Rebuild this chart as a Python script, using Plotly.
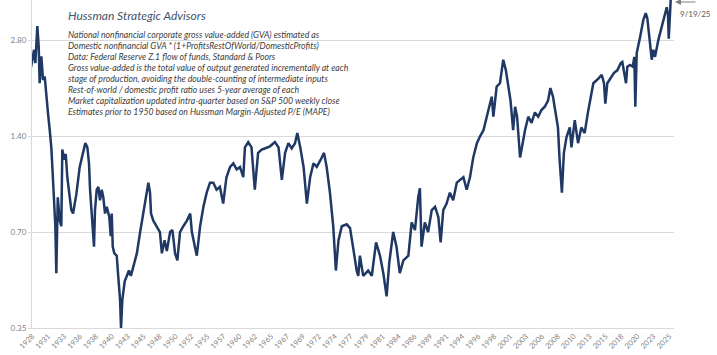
import numpy as np
import plotly.graph_objects as go

# ---- data (decimal year, MarketCap / GVA ratio) ----
years = [
    1928.64, 1929.10, 1929.30, 1929.60, 1929.81, 1929.95, 1930.21, 1930.46, 1930.72, 1930.96,
    1931.22, 1931.48, 1931.72, 1931.88, 1932.13, 1932.33, 1932.48, 1932.70, 1933.00, 1933.24,
    1933.39, 1933.65, 1933.91, 1934.15, 1934.52, 1934.76, 1935.02, 1935.52, 1936.03, 1936.53,
    1936.88, 1937.19, 1937.44, 1937.60, 1937.85, 1938.00, 1938.20, 1938.35, 1938.61, 1938.86,
    1939.11, 1939.37, 1939.61, 1939.87, 1940.13, 1940.52, 1940.74, 1940.89, 1941.04, 1941.28,
    1941.65, 1941.84, 1942.15, 1942.30, 1942.50, 1942.86, 1943.26, 1943.5, 1943.8, 1944.2,
    1944.7, 1945.2, 1945.7, 1946.2, 1946.45, 1946.7, 1946.85, 1947.2, 1947.7, 1948.2,
    1948.5, 1948.9, 1949.25, 1949.75, 1950.1, 1950.5, 1950.85, 1951.25, 1951.75, 1952.3,
    1952.8, 1953.05, 1953.5, 1953.8, 1954.3, 1954.8, 1955.3, 1955.8, 1956.3, 1956.8,
    1957.3, 1957.8, 1958.3, 1958.85, 1959.35, 1959.85, 1960.35, 1960.85, 1961.1, 1961.6,
    1962.1, 1962.6, 1963.1, 1963.65, 1964.1, 1964.9, 1965.65, 1966.2, 1966.7, 1967.2,
    1967.7, 1968.2, 1968.7, 1969.05, 1969.5, 1970.0, 1970.5, 1971.0, 1971.5, 1972.0,
    1972.6, 1973.1, 1973.5, 1974.0, 1974.5, 1974.9, 1975.3, 1975.8, 1976.55, 1977.05,
    1977.55, 1978.05, 1978.3, 1978.55, 1979.05, 1979.8, 1980.35, 1981.0, 1981.6, 1982.1,
    1982.6, 1983.0, 1983.6, 1984.1, 1984.6, 1985.15, 1985.9, 1986.4, 1986.9, 1987.4,
    1987.65, 1987.9, 1988.4, 1988.9, 1989.45, 1989.95, 1990.45, 1990.8, 1991.2, 1991.7,
    1992.2, 1992.7, 1993.25, 1993.85, 1994.25, 1994.75, 1995.25, 1995.75, 1996.3, 1996.8,
    1997.3, 1997.8, 1998.3, 1998.55, 1998.8, 1999.3, 1999.8, 2000.3, 2000.7, 2001.1,
    2001.4, 2001.8, 2002.1, 2002.4, 2002.6, 2002.85, 2003.25, 2003.6, 2004.1, 2004.6,
    2005.1, 2005.6, 2006.1, 2006.6, 2007.1, 2007.45, 2007.85, 2008.35, 2008.6, 2008.85,
    2009.2, 2009.5, 2009.9, 2010.4, 2010.65, 2011.15, 2011.65, 2012.15, 2012.65, 2013.15,
    2013.47, 2013.97, 2014.73, 2015.24, 2015.59, 2015.79, 2016.09, 2016.61, 2017.11, 2017.61,
    2018.13, 2018.37, 2018.63, 2018.93, 2019.13, 2019.54, 2019.95, 2020.19, 2020.34, 2020.55,
    2021.06, 2021.56, 2021.92, 2022.16, 2022.47, 2022.83, 2023.07, 2023.33, 2023.83, 2024.20,
    2024.70, 2025.11, 2025.30, 2025.41, 2025.61, 2025.72,
]
ratio = [
    2.30, 2.61, 2.37, 3.10, 2.67, 2.05, 2.49, 2.10, 2.15, 1.86,
    1.65, 1.46, 1.29, 1.12, 0.90, 0.73, 0.52, 0.90, 0.76, 0.73,
    1.27, 1.18, 1.23, 1.04, 0.90, 0.82, 0.80, 0.92, 1.12, 1.23,
    1.33, 1.29, 1.15, 0.95, 0.80, 0.75, 0.63, 0.82, 0.95, 0.97,
    0.88, 0.95, 0.90, 0.80, 0.84, 0.78, 0.68, 0.80, 0.63, 0.60,
    0.59, 0.52, 0.43, 0.35, 0.43, 0.49, 0.52, 0.53, 0.51, 0.55,
    0.60, 0.70, 0.80, 0.93, 1.00, 0.93, 0.80, 0.76, 0.73, 0.70,
    0.60, 0.66, 0.61, 0.70, 0.71, 0.60, 0.57, 0.70, 0.73, 0.76,
    0.80, 0.70, 0.63, 0.59, 0.73, 0.84, 0.93, 1.00, 1.00, 0.95,
    0.97, 0.86, 1.04, 1.12, 1.15, 1.10, 1.12, 1.04, 1.29, 1.34,
    1.29, 0.95, 1.24, 1.27, 1.28, 1.30, 1.34, 1.29, 1.02, 1.24,
    1.33, 1.28, 1.33, 1.43, 1.29, 1.12, 0.86, 1.04, 1.15, 1.12,
    1.18, 1.24, 1.12, 0.93, 0.73, 0.53, 0.66, 0.73, 0.74, 0.72,
    0.62, 0.53, 0.51, 0.59, 0.51, 0.53, 0.51, 0.65, 0.59, 0.52,
    0.44, 0.56, 0.70, 0.63, 0.52, 0.57, 0.59, 0.75, 0.71, 0.90,
    0.96, 0.63, 0.75, 0.70, 0.82, 0.84, 0.78, 0.65, 0.82, 0.86,
    0.93, 0.88, 1.00, 1.02, 1.04, 0.95, 1.04, 1.20, 1.33, 1.40,
    1.46, 1.61, 1.77, 1.86, 1.61, 2.00, 2.05, 2.43, 2.25, 2.00,
    1.81, 1.46, 1.73, 1.61, 1.36, 1.20, 1.33, 1.46, 1.61, 1.54,
    1.66, 1.61, 1.69, 1.73, 1.81, 1.98, 1.86, 1.61, 1.49, 1.18,
    0.93, 1.24, 1.39, 1.49, 1.29, 1.57, 1.33, 1.49, 1.43, 1.66,
    1.81, 2.05, 2.12, 2.18, 2.05, 1.77, 2.05, 2.14, 2.21, 2.25,
    2.37, 2.39, 2.25, 2.05, 2.31, 2.34, 2.31, 2.48, 1.73, 2.55,
    2.86, 3.24, 3.40, 3.28, 2.86, 2.43, 2.61, 2.48, 2.80, 3.01,
    3.31, 3.55, 3.36, 2.83, 3.40, 3.80,
]

x_tick_labels = [
    "1928", "1931", "1933", "1936", "1938", "1940", "1943", "1945", "1948", "1950",
    "1952", "1955", "1957", "1960", "1962", "1965", "1967", "1969", "1972", "1974",
    "1977", "1979", "1981", "1984", "1986", "1989", "1991", "1994", "1996", "1998",
    "2001", "2003", "2006", "2008", "2010", "2013", "2015", "2018", "2020", "2023",
    "2025",
]
y_tick_values = [0.35, 0.70, 1.40, 2.80]
y_tick_labels = ["0.35", "0.70", "1.40", "2.80"]

title_text = "Hussman Strategic Advisors"
note_lines = [
    "National nonfinancial corporate gross value-added (GVA) estimated as",
    "Domestic nonfinancial GVA * (1+ProfitsRestOfWorld/DomesticProfits)",
    "Data: Federal Reserve Z.1 flow of funds, Standard & Poors",
    "Gross value-added is the total value of output generated incrementally at each",
    "stage of production, avoiding the double-counting of intermediate inputs",
    "Rest-of-world / domestic profit ratio uses 5-year average of each",
    "Market capitalization updated intra-quarter based on S&P 500 weekly close",
    "Estimates prior to 1950 based on Hussman Margin-Adjusted P/E (MAPE)",
]
end_label = "9/19/25"

# ---- figure ----
W, H = 717, 355
ML, MR, MT, MB = 32, 43, 0, 27
x_range = [1928.79, 2026.21]
first_tick, last_tick = 1928.83, 2025.5
tick_pos = np.linspace(first_tick, last_tick, len(x_tick_labels))

fig = go.Figure()
fig.add_trace(go.Scatter(
    x=years, y=ratio, mode="lines",
    line=dict(color="#1F3864", width=2.5),
    hoverinfo="skip", showlegend=False,
))

font_family = "Lato, 'Open Sans', sans-serif"
fig.update_layout(
    width=W, height=H,
    margin=dict(l=ML, r=MR, t=MT, b=MB, autoexpand=False),
    paper_bgcolor="white", plot_bgcolor="white",
    font=dict(family=font_family, size=8, color="#595959"),
    showlegend=False,
)
fig.update_xaxes(
    range=x_range, showgrid=False, zeroline=False,
    showline=True, linecolor="#D9D9D9", linewidth=1,
    tickmode="array", tickvals=tick_pos, ticktext=x_tick_labels,
    tickangle=-45, tickfont=dict(size=7.5, color="#7F7F7F"),
    ticks="", automargin=False,
)
fig.update_yaxes(
    type="log", range=[np.log10(0.35), np.log10(3.74)],
    tickmode="array", tickvals=y_tick_values, ticktext=y_tick_labels,
    showgrid=True, gridcolor="#D9D9D9", gridwidth=1,
    showline=True, linecolor="#D9D9D9", linewidth=1,
    zeroline=False, ticks="outside", ticklen=3, tickcolor="#D9D9D9",
    tickfont=dict(size=8, color="#7F7F7F"), automargin=False,
)

plot_h = H - MT - MB
plot_w = W - ML - MR


def px_to_paper_y(py):
    return (H - MB - py) / plot_h


def px_to_paper_x(px):
    return (px - ML) / plot_w


fig.add_annotation(
    xref="paper", yref="paper", x=px_to_paper_x(66), y=px_to_paper_y(15),
    xanchor="left", yanchor="middle", showarrow=False,
    text="<i>" + title_text + "</i>",
    font=dict(family=font_family, size=12, color="#44546A"),
)
for i, line in enumerate(note_lines):
    fig.add_annotation(
        xref="paper", yref="paper", x=px_to_paper_x(66), y=px_to_paper_y(35 + i * 10.9),
        xanchor="left", yanchor="middle", showarrow=False,
        text="<i>" + line.replace("&", "&amp;") + "</i>",
        font=dict(family=font_family, size=8.7, color="#404040"),
    )

fig.add_annotation(
    xref="paper", yref="paper", x=px_to_paper_x(678), y=px_to_paper_y(14),
    xanchor="left", yanchor="middle", showarrow=False,
    text=end_label, font=dict(family=font_family, size=8, color="#595959"),
)
fig.add_annotation(
    xref="paper", yref="paper", x=px_to_paper_x(675), y=px_to_paper_y(2),
    ax=22, ay=0, axref="pixel", ayref="pixel",
    showarrow=True, arrowhead=2, arrowsize=1, arrowwidth=1.2, arrowcolor="#7F7F7F",
    text="",
)

fig.write_html(
    "out.html",
    config={"displayModeBar": False, "staticPlot": True},
    post_script="document.body.style.margin='0';document.body.style.padding='0';",
)
